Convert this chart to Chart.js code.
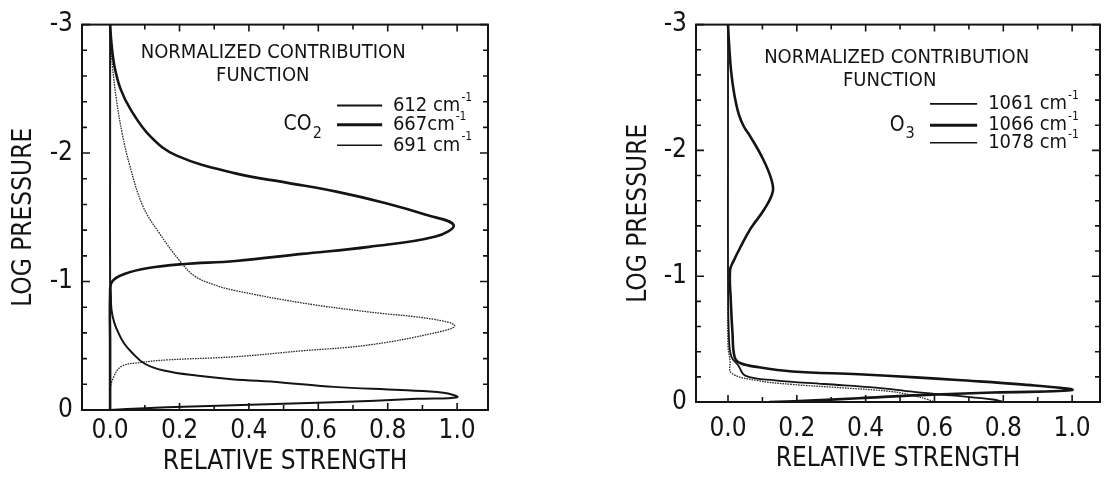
<!DOCTYPE html>
<html><head><meta charset="utf-8">
<script src="https://cdn.jsdelivr.net/npm/chart.js@4.4.1/dist/chart.umd.min.js"></script>
<style>
html,body{margin:0;padding:0;background:#fff;}
#wrap{position:relative;width:1107px;height:477px;overflow:hidden;background:#fff;}
.panel{position:absolute;top:0;height:477px;}
canvas{display:block;}
</style></head><body>
<div id="wrap">
<div class="panel" style="left:0;width:553px"><canvas id="c1" width="553" height="477" style="width:553px;height:477px"></canvas></div>
<div class="panel" style="left:553px;width:554px"><canvas id="c2" width="554" height="477" style="width:554px;height:477px"></canvas></div>
</div>
<script>
// ---- tick labels ----
const xTickLabels = [0.0, 0.2, 0.4, 0.6, 0.8, 1.0];
const xTickMarks = [0.0, 0.1, 0.2, 0.3, 0.4, 0.5, 0.6, 0.7, 0.8, 0.9, 1.0];
const yTickLabels = [-3, -2, -1, 0];
const yTickMarks = [-3, -2.8, -2.6, -2.4, -2.2, -2, -1.8, -1.6, -1.4, -1.2, -1, -0.8, -0.6, -0.4, -0.2, 0];

// ---- CO2 panel series (relative strength vs log pressure) ----
const co2_612_strength = [0, 0, 0, 0.002, 0.004, 0.012, 0.024, 0.04, 0.062, 0.1, 0.158, 0.254, 0.35, 0.494, 0.645, 0.837, 0.96, 1.0, 0.884, 0.644, 0.452, 0.26, 0.067, 0];
const co2_612_logp     = [-3, -2, -1.0, -0.9, -0.78, -0.68, -0.60, -0.52, -0.45, -0.36, -0.305, -0.266, -0.24, -0.215, -0.18, -0.155, -0.135, -0.1, -0.087, -0.06, -0.045, -0.03, -0.01, 0];

const co2_667_strength = [0, 0.004, 0.013, 0.03, 0.059, 0.116, 0.192, 0.364, 0.508, 0.652, 0.795, 0.91, 0.99, 0.938, 0.746, 0.553, 0.361, 0.208, 0.11, 0.043, 0.006, 0, 0, 0];
const co2_667_logp     = [-3, -2.85, -2.67, -2.5, -2.34, -2.13, -1.98, -1.84, -1.77, -1.70, -1.61, -1.52, -1.44, -1.35, -1.27, -1.215, -1.16, -1.135, -1.105, -1.06, -1.0, -0.9, -0.5, 0];

const co2_691_strength = [0, 0.002, 0.007, 0.018, 0.035, 0.057, 0.094, 0.141, 0.207, 0.245, 0.3, 0.36, 0.552, 0.743, 0.935, 0.993, 0.935, 0.742, 0.55, 0.357, 0.165, 0.09, 0.033, 0.009, 0, 0];
const co2_691_logp     = [-3, -2.85, -2.67, -2.42, -2.15, -1.90, -1.59, -1.38, -1.14, -1.04, -0.975, -0.93, -0.834, -0.764, -0.705, -0.655, -0.60, -0.505, -0.46, -0.414, -0.39, -0.37, -0.34, -0.25, -0.15, 0];

// ---- O3 panel series ----
const o3_1061_strength = [0, 0, 0, 0.003, 0.01, 0.03, 0.05, 0.137, 0.28, 0.43, 0.54, 0.66, 0.77, 0.8];
const o3_1061_logp     = [-3, -2, -1, -0.5, -0.36, -0.29, -0.21, -0.172, -0.143, -0.114, -0.08, -0.05, -0.02, 0];

const o3_1066_strength = [0, 0.003, 0.009, 0.018, 0.031, 0.046, 0.065, 0.102, 0.126, 0.13, 0.105, 0.066, 0.036, 0.016, 0.006, 0.008, 0.013, 0.019, 0.035, 0.09, 0.187, 0.38, 0.545, 0.667, 0.86, 1.0, 0.77, 0.56, 0.38, 0.19, 0.12];
const o3_1066_logp     = [-3, -2.85, -2.63, -2.45, -2.29, -2.19, -2.11, -1.93, -1.77, -1.67, -1.53, -1.38, -1.23, -1.12, -1.05, -0.81, -0.55, -0.36, -0.31, -0.276, -0.243, -0.22, -0.196, -0.175, -0.138, -0.095, -0.075, -0.055, -0.03, -0.005, 0];

const o3_1078_strength = [0, 0, 0, 0.006, 0.01, 0.087, 0.185, 0.33, 0.475, 0.54, 0.58, 0.6];
const o3_1078_logp     = [-2.7, -1, -0.45, -0.33, -0.23, -0.17, -0.14, -0.113, -0.083, -0.05, -0.02, 0];

const FONT = "'DejaVu Sans Condensed', 'DejaVu Sans', 'Liberation Sans', sans-serif";
const INK = '#141414';

function pts(xs, ys) { return xs.map((x, i) => ({ x: x, y: ys[i] })); }

function makePanel(id, cfg) {
  const canvas = document.getElementById(id);
  const H = canvas.height, W = canvas.width;
  const deco = {
    id: 'deco' + id,
    afterDraw(chart) {
      const ctx = chart.ctx;
      const a = chart.chartArea;
      const xs = chart.scales.x, ys = chart.scales.y;
      ctx.save();
      ctx.strokeStyle = INK;
      ctx.lineCap = 'butt';
      // inward tick marks
      ctx.lineWidth = 1.6;
      ctx.beginPath();
      xTickMarks.forEach((v, i) => {
        const px = xs.getPixelForValue(v);
        const len = (i % 2 === 0) ? 7 : 5;
        ctx.moveTo(px, a.bottom); ctx.lineTo(px, a.bottom - len);
        ctx.moveTo(px, a.top); ctx.lineTo(px, a.top + len);
      });
      yTickMarks.forEach((v) => {
        const py = ys.getPixelForValue(v);
        const len = Number.isInteger(v) ? 8 : 5;
        ctx.moveTo(a.left, py); ctx.lineTo(a.left + len, py);
        ctx.moveTo(a.right, py); ctx.lineTo(a.right - len, py);
      });
      ctx.stroke();
      // frame
      ctx.lineWidth = 2;
      ctx.strokeRect(a.left, a.top, a.right - a.left, a.bottom - a.top);
      // annotation text
      ctx.fillStyle = INK;
      ctx.textBaseline = 'middle';
      ctx.textAlign = 'center';
      ctx.font = '20px ' + FONT;
      ctx.fillText('NORMALIZED CONTRIBUTION', xs.getPixelForValue(cfg.title1[0]), ys.getPixelForValue(cfg.title1[1]));
      ctx.fillText('FUNCTION', xs.getPixelForValue(cfg.title2[0]), ys.getPixelForValue(cfg.title2[1]));
      // gas label with subscript
      const gx = xs.getPixelForValue(cfg.gas.x), gy = ys.getPixelForValue(cfg.gas.y);
      ctx.textAlign = 'left';
      ctx.font = '21px ' + FONT;
      ctx.fillText(cfg.gas.main, gx, gy);
      const gw = ctx.measureText(cfg.gas.main).width;
      ctx.font = '16px ' + FONT;
      ctx.fillText(cfg.gas.sub, gx + gw + 1, gy + 9);
      // legend
      cfg.series.forEach((s, i) => {
        const ly = ys.getPixelForValue(cfg.legendY[i]);
        const lx0 = xs.getPixelForValue(cfg.legendX[0]);
        const lx1 = xs.getPixelForValue(cfg.legendX[1]);
        ctx.lineWidth = s.legendWidth;
        ctx.setLineDash([]);
        ctx.beginPath(); ctx.moveTo(lx0, ly); ctx.lineTo(lx1, ly); ctx.stroke();
        const tx = xs.getPixelForValue(cfg.legendX[2]);
        ctx.font = '20px ' + FONT;
        ctx.textAlign = 'left';
        ctx.fillText(s.label, tx, ly);
        const w = ctx.measureText(s.label).width;
        ctx.font = '12px ' + FONT;
        ctx.fillText('-1', tx + w + 1, ly - 8);
      });
      ctx.restore();
    }
  };
  return new Chart(canvas, {
    type: 'scatter',
    data: {
      datasets: cfg.series.map(s => ({
        label: s.label,
        data: pts(s.xs, s.ys),
        showLine: true,
        borderColor: s.color,
        borderWidth: s.width,
        borderDash: s.dash,
        pointRadius: 0,
        pointHoverRadius: 0,
        tension: 0.4,
        fill: false
      }))
    },
    options: {
      responsive: false,
      animation: false,
      events: [],
      layout: { padding: { left: 0, top: cfg.area.top, right: W - cfg.area.right, bottom: 0 } },
      plugins: { legend: { display: false }, tooltip: { enabled: false } },
      scales: {
        x: {
          type: 'linear', position: 'bottom', min: cfg.xMin, max: cfg.xMax,
          afterBuildTicks: s => { s.ticks = xTickLabels.map(v => ({ value: v })); },
          afterFit: s => { s.height = H - cfg.area.bottom; },
          grid: { display: false, drawTicks: false },
          border: { display: false },
          ticks: { color: INK, font: { family: FONT, size: 26, lineHeight: 1.2 }, padding: cfg.xTickPad, maxRotation: 0, autoSkip: false,
                   callback: v => Number(v).toFixed(1) },
          title: { display: true, text: 'RELATIVE STRENGTH', color: INK, font: { family: FONT, size: 26, lineHeight: 1 },
                   padding: { top: 0, bottom: cfg.xTitlePad } }
        },
        y: {
          type: 'linear', position: 'left', min: -3, max: 0, reverse: true,
          afterBuildTicks: s => { s.ticks = yTickLabels.map(v => ({ value: v })); },
          afterFit: s => { s.width = cfg.area.left; },
          grid: { display: false, drawTicks: false },
          border: { display: false },
          ticks: { color: INK, font: { family: FONT, size: 26 }, padding: 9, autoSkip: false,
                   callback: v => String(v) },
          title: { display: true, text: 'LOG PRESSURE', color: INK, font: { family: FONT, size: 26, lineHeight: 1.2 },
                   padding: { top: cfg.yTitlePad, bottom: 0 } }
        }
      }
    },
    plugins: [deco]
  });
}

makePanel('c1', {
  area: { left: 82, right: 488, top: 23, bottom: 410 },
  xMin: -0.081, xMax: 1.089,
  xTickPad: 6, xTitlePad: 2, yTitlePad: 9,
  title1: [0.47, -2.78], title2: [0.44, -2.6],
  gas: { main: 'CO', sub: '2', x: 0.5, y: -2.22 },
  legendX: [0.654, 0.784, 0.815],
  legendY: [-2.37, -2.22, -2.06],
  series: [
    { label: '612 cm', xs: co2_612_strength, ys: co2_612_logp, width: 2.0, dash: [], color: INK, legendWidth: 2 },
    { label: '667cm', xs: co2_667_strength, ys: co2_667_logp, width: 2.6, dash: [], color: INK, legendWidth: 3 },
    { label: '691 cm', xs: co2_691_strength, ys: co2_691_logp, width: 1.3, dash: [1.6, 1], color: '#2a2a2a', legendWidth: 1.5 }
  ]
});

makePanel('c2', {
  area: { left: 143, right: 547, top: 18, bottom: 402 },
  xMin: -0.093, xMax: 1.081,
  xTickPad: 12, xTitlePad: 5, yTitlePad: 71,
  title1: [0.49, -2.74], title2: [0.47, -2.55],
  gas: { main: 'O', sub: '3', x: 0.47, y: -2.2 },
  legendX: [0.587, 0.724, 0.756],
  legendY: [-2.37, -2.2, -2.06],
  series: [
    { label: '1061 cm', xs: o3_1061_strength, ys: o3_1061_logp, width: 1.8, dash: [], color: INK, legendWidth: 1.6 },
    { label: '1066 cm', xs: o3_1066_strength, ys: o3_1066_logp, width: 2.6, dash: [], color: INK, legendWidth: 3 },
    { label: '1078 cm', xs: o3_1078_strength, ys: o3_1078_logp, width: 1.3, dash: [1.6, 1], color: '#2a2a2a', legendWidth: 1.5 }
  ]
});
</script>
</body></html>
